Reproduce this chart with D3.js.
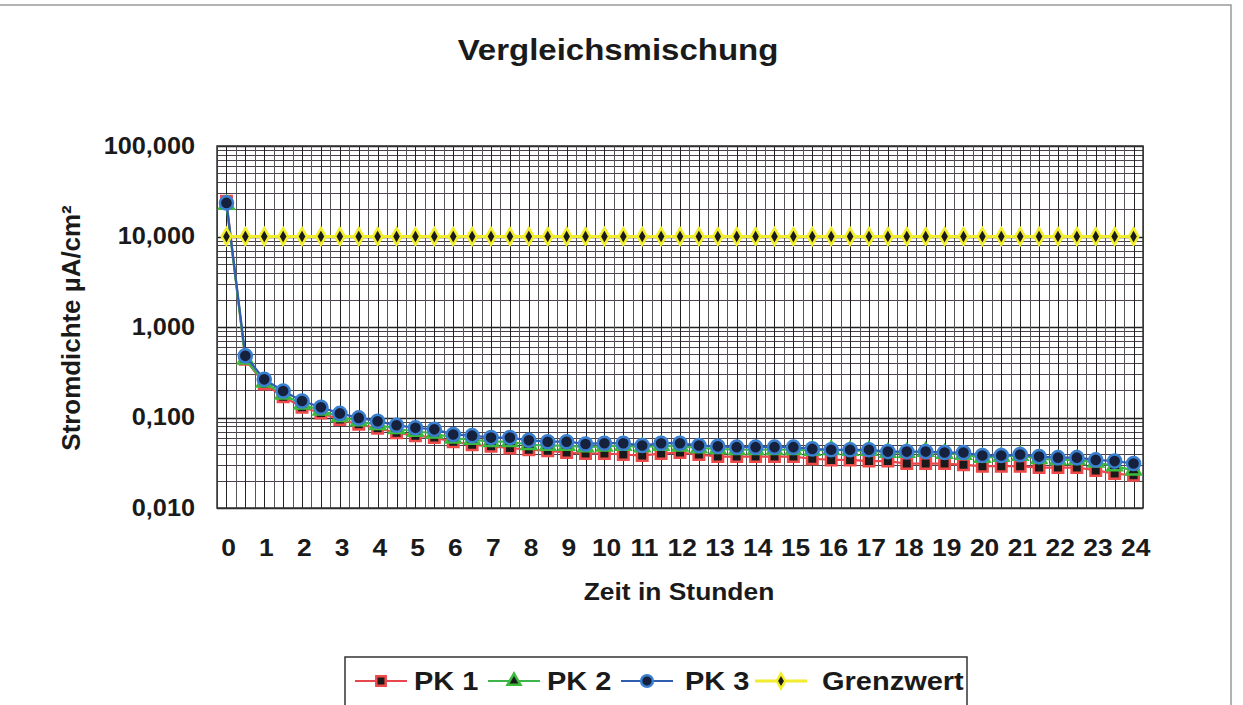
<!DOCTYPE html>
<html>
<head>
<meta charset="utf-8">
<script src="https://cdn.jsdelivr.net/npm/d3@7"></script>
<style>
  body { margin: 0; background: #fff; }
  text { font-family: 'Liberation Sans', Arial, sans-serif; font-weight: bold; fill: #1a1a1a; }
</style>
</head>
<body>
<svg width="1243" height="705"></svg>
<script>
const hours = [0, 0.5, 1, 1.5, 2, 2.5, 3, 3.5, 4, 4.5, 5, 5.5, 6, 6.5, 7, 7.5, 8, 8.5, 9, 9.5,
  10, 10.5, 11, 11.5, 12, 12.5, 13, 13.5, 14, 14.5, 15, 15.5, 16, 16.5, 17, 17.5, 18, 18.5, 19, 19.5,
  20, 20.5, 21, 21.5, 22, 22.5, 23, 23.5, 24];

const pk1 = [24.5, 0.44, 0.235, 0.17, 0.13, 0.112, 0.095, 0.084, 0.076, 0.068, 0.063, 0.06, 0.054, 0.05, 0.048, 0.046,
  0.044, 0.043, 0.041, 0.04, 0.04, 0.039, 0.038, 0.04, 0.041, 0.039, 0.037, 0.037, 0.037, 0.037, 0.037, 0.035,
  0.034, 0.034, 0.033, 0.033, 0.031, 0.031, 0.031, 0.03, 0.029, 0.029, 0.029, 0.028, 0.028, 0.028, 0.026, 0.024, 0.023];

const pk2 = [22.5, 0.44, 0.245, 0.18, 0.14, 0.12, 0.102, 0.091, 0.083, 0.075, 0.07, 0.067, 0.059, 0.057, 0.054, 0.054,
  0.05, 0.049, 0.049, 0.047, 0.048, 0.049, 0.047, 0.049, 0.048, 0.046, 0.045, 0.044, 0.044, 0.044, 0.044, 0.043,
  0.044, 0.043, 0.043, 0.041, 0.041, 0.042, 0.04, 0.039, 0.036, 0.037, 0.038, 0.035, 0.034, 0.034, 0.032, 0.029, 0.026];

const pk3 = [23.5, 0.48, 0.264, 0.196, 0.152, 0.13, 0.111, 0.099, 0.091, 0.082, 0.077, 0.074, 0.065, 0.063, 0.06, 0.06,
  0.056, 0.054, 0.054, 0.051, 0.052, 0.052, 0.049, 0.052, 0.052, 0.049, 0.048, 0.047, 0.047, 0.047, 0.047, 0.045,
  0.044, 0.044, 0.044, 0.042, 0.042, 0.042, 0.041, 0.041, 0.038, 0.038, 0.039, 0.037, 0.036, 0.036, 0.034, 0.033, 0.031];

const grenzwert = [10, 10, 10, 10, 10, 10, 10, 10, 10, 10, 10, 10, 10, 10, 10, 10, 10, 10, 10, 10, 10, 10, 10, 10, 10,
  10, 10, 10, 10, 10, 10, 10, 10, 10, 10, 10, 10, 10, 10, 10, 10, 10, 10, 10, 10, 10, 10, 10, 10];

const yTicks = [0.01, 0.1, 1, 10, 100];

const seriesNames = ['PK 1', 'PK 2', 'PK 3', 'Grenzwert'];
const seriesValues = [pk1, pk2, pk3, grenzwert];

// look of each series
const styles = [
  { line: '#e8454c', stroke: '#ef4a4a', fill: '#1a1a1a', symbol: d3.symbolSquare, size: 110, width: 2.2 },
  { line: '#3db54a', stroke: '#3cba3c', fill: '#1a1a1a', symbol: d3.symbolTriangle, size: 90, width: 2.2 },
  { line: '#2f5db0', stroke: '#3a7fd0', fill: '#16213d', symbol: d3.symbolCircle, size: 135, width: 2.2 },
  { line: '#f2ec30', stroke: '#f3ee2c', fill: '#1a1a1a', symbol: d3.symbolDiamond, size: 80, width: 3 }
];

const stretch = 1.1;
const plotLeft = 217, plotRight = 1143, plotTop = 146, plotBottom = 508;

const svg = d3.select('svg');

svg.append('rect')
  .attr('x', -2).attr('y', 5)
  .attr('width', 1233).attr('height', 710)
  .attr('fill', 'none')
  .attr('stroke', '#999')
  .attr('stroke-width', 1.5);

const xScale = d3.scaleBand()
  .domain(hours)
  .range([plotLeft, plotRight])
  .padding(0);

const yScale = d3.scaleLog()
  .domain([0.01, 100])
  .range([plotBottom, plotTop]);

const grid = svg.append('g').attr('id', 'grid');

// minor horizontal lines of the log grid
const minors = [];
yTicks.slice(0, -1).forEach(t => {
  for (let k = 2; k <= 9; k++) minors.push(t * k);
});

grid.selectAll('line.minor')
  .data(minors)
  .enter()
  .append('line')
  .attr('class', 'minor')
  .attr('x1', plotLeft).attr('x2', plotRight)
  .attr('y1', d => Math.round(yScale(d)) + 0.5)
  .attr('y2', d => Math.round(yScale(d)) + 0.5)
  .style('stroke', '#4a3f4a')
  .style('stroke-width', 1);

grid.selectAll('line.major')
  .data(yTicks)
  .enter()
  .append('line')
  .attr('class', 'major')
  .attr('x1', plotLeft).attr('x2', plotRight)
  .attr('y1', d => Math.round(yScale(d)) + 0.5)
  .attr('y2', d => Math.round(yScale(d)) + 0.5)
  .style('stroke', '#222')
  .style('stroke-width', 1.3);

// vertical lines at each band edge and band centre
const vLines = [];
hours.forEach(h => {
  vLines.push(xScale(h));
  vLines.push(xScale(h) + xScale.bandwidth() / 2);
});
vLines.push(plotRight);

grid.selectAll('line.v')
  .data(vLines)
  .enter()
  .append('line')
  .attr('class', 'v')
  .attr('x1', d => Math.round(d) + 0.5).attr('x2', d => Math.round(d) + 0.5)
  .attr('y1', plotTop).attr('y2', plotBottom)
  .style('stroke', (d, i) => (i % 2 === 1 ? '#222' : '#555'))
  .style('stroke-width', 1);

svg.append('rect')
  .attr('x', plotLeft).attr('y', plotTop)
  .attr('width', plotRight - plotLeft).attr('height', plotBottom - plotTop)
  .attr('fill', 'none')
  .attr('stroke', '#333')
  .attr('stroke-width', 1.5);

// axes
const deFormat = d3.formatLocale({ decimal: ',', thousands: '.', grouping: [3], currency: ['', ''] }).format('.3f');

const yAxis = d3.axisLeft(yScale)
  .tickValues(yTicks)
  .tickFormat(deFormat)
  .tickSize(0)
  .tickPadding(20);

const yAxisG = svg.append('g')
  .attr('id', 'yAxisG')
  .attr('transform', 'translate(' + plotLeft + ',0)')
  .call(yAxis);

const xAxis = d3.axisBottom(xScale)
  .tickValues(hours.filter((h, i) => i % 2 === 0))
  .tickFormat(d => String(d))
  .tickSize(0)
  .tickPadding(31);

const xAxisG = svg.append('g')
  .attr('id', 'xAxisG')
  .attr('transform', 'translate(0,' + plotBottom + ')')
  .call(xAxis);

[yAxisG, xAxisG].forEach(g => {
  g.select('.domain').remove();
  g.selectAll('text')
    .style('font-size', '23px')
    .style('font-family', "'Liberation Sans', Arial, sans-serif")
    .style('font-weight', 'bold')
    .attr('fill', '#1a1a1a')
    .attr('transform', 'scale(' + stretch + ',1)');
});
xAxisG.selectAll('text')
  .style('font-size', '24px')
  .attr('dy', '0.71em')
  .attr('transform', 'scale(' + stretch + ',1)')
  .attr('x', 2);

// series
const line = d3.line()
  .x((d, i) => xScale(hours[i]) + xScale.bandwidth() / 2)
  .y(d => yScale(d));

seriesValues.forEach((values, s) => {
  const st = styles[s];
  const g = svg.append('g').attr('class', 'series');
  g.append('path')
    .datum(values)
    .attr('d', line)
    .attr('fill', 'none')
    .attr('stroke', st.line)
    .attr('stroke-width', st.width);
  g.selectAll('path.marker')
    .data(values)
    .enter()
    .append('path')
    .attr('class', 'marker')
    .attr('d', d3.symbol().type(st.symbol).size(st.size))
    .attr('transform', (d, i) => 'translate(' + (xScale(hours[i]) + xScale.bandwidth() / 2) + ',' + yScale(d) + ')')
    .attr('fill', st.fill)
    .attr('stroke', st.stroke)
    .attr('stroke-width', 2.5);
});

// titles
svg.append('text')
  .attr('transform', 'translate(618,60) scale(' + stretch + ',1)')
  .attr('text-anchor', 'middle')
  .style('font-size', '30px')
  .text('Vergleichsmischung');

svg.append('text')
  .attr('transform', 'translate(679,600) scale(' + stretch + ',1)')
  .attr('text-anchor', 'middle')
  .style('font-size', '24px')
  .text('Zeit in Stunden');

svg.append('text')
  .attr('transform', 'translate(80,328) rotate(-90) scale(1.08,' + stretch + ')')
  .attr('text-anchor', 'middle')
  .style('font-size', '24px')
  .text('Stromdichte µA/cm²');

// legend
const legend = svg.append('g').attr('id', 'legend');
legend.append('rect')
  .attr('x', 345).attr('y', 657)
  .attr('width', 622).attr('height', 60)
  .attr('fill', '#fff')
  .attr('stroke', '#333')
  .attr('stroke-width', 1.5);

const legendX = [355, 488, 621, 755];
seriesNames.forEach((name, s) => {
  const st = styles[s];
  const x0 = legendX[s];
  const cy = 681;
  legend.append('line')
    .attr('x1', x0).attr('x2', x0 + 52)
    .attr('y1', cy).attr('y2', cy)
    .attr('stroke', st.line)
    .attr('stroke-width', st.width);
  legend.append('path')
    .attr('d', d3.symbol().type(st.symbol).size(st.size * 0.8)())
    .attr('transform', 'translate(' + (x0 + 26) + ',' + cy + ')')
    .attr('fill', st.fill)
    .attr('stroke', st.stroke)
    .attr('stroke-width', 2.5);
  legend.append('text')
    .attr('transform', 'translate(' + (x0 + 59 + (s === 3 ? 8 : s === 2 ? 5 : 0)) + ',' + (cy + 9) + ') scale(1.16,1)')
    .style('font-size', '25px')
    .text(name);
});
</script>
</body>
</html>
